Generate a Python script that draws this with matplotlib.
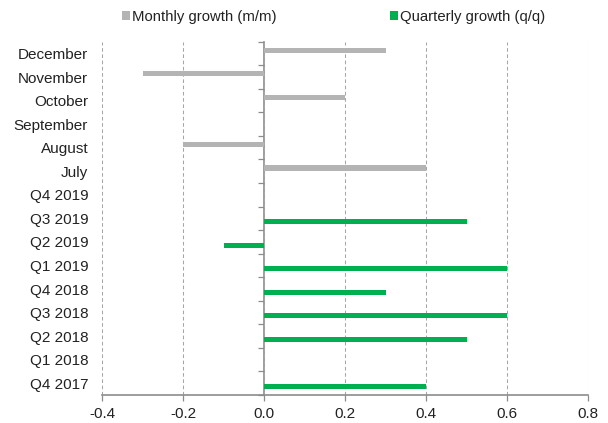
import numpy as np
import matplotlib
matplotlib.use("Agg")
import matplotlib.pyplot as plt

plt.rcParams['font.family'] = ['Liberation Sans', 'DejaVu Sans']

# categories, top to bottom
categories = ["December", "November", "October", "September", "August", "July",
              "Q4 2019", "Q3 2019", "Q2 2019", "Q1 2019", "Q4 2018",
              "Q3 2018", "Q2 2018", "Q1 2018", "Q4 2017"]

nan = np.nan
monthly = [0.3, -0.3, 0.2, 0.0, -0.2, 0.4,
           nan, nan, nan, nan, nan, nan, nan, nan, nan]
quarterly = [nan, nan, nan, nan, nan, nan,
             0.0, 0.5, -0.1, 0.6, 0.3, 0.6, 0.5, 0.0, 0.4]

x_ticks = [-0.4, -0.2, 0.0, 0.2, 0.4, 0.6, 0.8]

grey = "#B4B4B4"
green = "#00B050"
axis_col = "#8C8C8C"
text_col = "#222222"

fig = plt.figure(figsize=(6.08, 4.23), dpi=100)
ax = fig.add_axes([0.1678, 0.0662, 0.7993, 0.8352])

y = np.arange(len(categories))
h = 0.22
off = 0.14
b1 = ax.barh(y - off, monthly, height=h, color=grey, label="Monthly growth (m/m)")
b2 = ax.barh(y + off, quarterly, height=h, color=green, label="Quarterly growth (q/q)")

ax.set_xlim(-0.4, 0.8)
ax.set_ylim(len(categories) - 0.5, -0.5)
ax.set_xticks(x_ticks)
ax.set_xticklabels([f"{v:.1f}" for v in x_ticks])
ax.set_yticks(y)
ax.set_yticklabels(categories)

ax.tick_params(axis='y', length=0, pad=10, labelsize=11, labelcolor=text_col)
ax.tick_params(axis='x', length=4, width=0.9, color=axis_col, direction='out',
               pad=5, labelsize=11, labelcolor=text_col)

for s in ['top', 'right', 'left']:
    ax.spines[s].set_visible(False)
ax.spines['bottom'].set_color(axis_col)
ax.spines['bottom'].set_linewidth(1.2)

# dashed vertical gridlines
ax.grid(axis='x', linestyle=(0, (3.5, 2.5)), color="#A6A6A6", linewidth=0.75)
ax.set_axisbelow(True)

# category axis sitting on x = 0
sec = ax.secondary_yaxis(0, transform=ax.transData)
sec.set_yticks(np.arange(len(categories) + 1) - 0.5)
sec.set_yticklabels([])
sec.tick_params(length=4, width=0.9, color=axis_col, direction='out')
sec.spines['left'].set_color(axis_col)
sec.spines['left'].set_linewidth(1.2)

fig.legend(handles=[b1, b2], loc='center', bbox_to_anchor=(0.5485, 0.96),
           ncol=2, frameon=False, fontsize=10.7, labelcolor=text_col,
           handlelength=0.54, handleheight=0.54, handletextpad=0.15,
           columnspacing=7.6, borderpad=0)

fig.savefig("out.png", dpi=100)
